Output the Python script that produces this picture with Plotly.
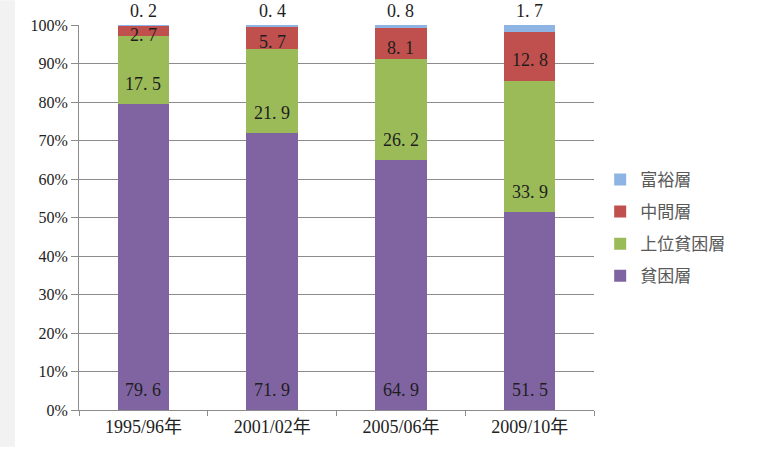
import plotly.graph_objects as go

# Income-class shares of households by survey year (percent)
years = ["1995/96年", "2001/02年", "2005/06年", "2009/10年"]
poor = [79.6, 71.9, 64.9, 51.5]          # 貧困層
upper_poor = [17.5, 21.9, 26.2, 33.9]    # 上位貧困層
middle = [2.7, 5.7, 8.1, 12.8]           # 中間層
rich = [0.2, 0.4, 0.8, 1.7]              # 富裕層

series = [
    ("貧困層", poor, "#8064A2"),
    ("上位貧困層", upper_poor, "#9BBB59"),
    ("中間層", middle, "#C0504D"),
    ("富裕層", rich, "#8DB4E2"),
]

serif = "Liberation Serif, Noto Sans CJK JP, serif"
grid = "#8C8C8C"

fig = go.Figure()
for i, (name, vals, color) in enumerate(series):
    fig.add_trace(go.Bar(
        x=years, y=vals, name=name,
        marker=dict(color=color, line=dict(width=0)),
        legendgroup=name,
        legendrank=len(series) - i,
        hoverinfo="x+y+name",
    ))


def fmt(v):
    return f"{v:.1f}".replace(".", ". ")


# value labels, positioned from the normalised stack
annotations = []
for j, yr in enumerate(years):
    total = sum(s[1][j] for s in series)
    base = 0.0
    for k, (name, vals, color) in enumerate(series):
        h = vals[j] / total * 100
        if k < 2:
            y, shift = base, 20
        elif k == 2:
            y, shift = base + h / 2, -4
        else:
            y, shift = 100, 14
        annotations.append(dict(
            x=yr, y=y, xref="x", yref="y", text=fmt(vals[j]),
            showarrow=False, yshift=shift, yanchor="middle",
            font=dict(family=serif, size=18, color="#1E1E1E"),
        ))
        base += h

fig.update_layout(
    barmode="stack",
    barnorm="percent",
    bargap=0.6,
    width=757, height=449,
    margin=dict(l=79, r=163, t=25, b=37),
    paper_bgcolor="white",
    plot_bgcolor="white",
    showlegend=True,
    legend=dict(
        x=1.012, xanchor="left", y=0.473, yanchor="middle",
        traceorder="grouped", tracegroupgap=7,
        itemwidth=30,
        font=dict(family="Noto Sans CJK JP", size=17, color="#595959"),
        bgcolor="rgba(0,0,0,0)",
    ),
    annotations=annotations,
    shapes=[
        dict(type="rect", xref="paper", yref="paper",
             x0=-79 / 515, x1=-64 / 515, y0=-37 / 387, y1=1 + 25 / 387,
             fillcolor="#F2F2F2", line=dict(width=0), layer="below"),
    ],
    xaxis=dict(
        type="category",
        tickson="boundaries",
        ticks="outside", ticklen=5, tickcolor=grid,
        showline=True, linecolor=grid, linewidth=1,
        showgrid=False,
        tickfont=dict(family=serif, size=18, color="#222222"),
    ),
    yaxis=dict(
        range=[0, 100], dtick=10, ticksuffix="%",
        ticks="outside", ticklen=7, tickcolor=grid,
        showline=True, linecolor=grid, linewidth=1,
        showgrid=True, gridcolor=grid, gridwidth=1,
        zeroline=False,
        tickfont=dict(family=serif, size=16, color="#222222"),
    ),
)

fig.write_html("out.html")
